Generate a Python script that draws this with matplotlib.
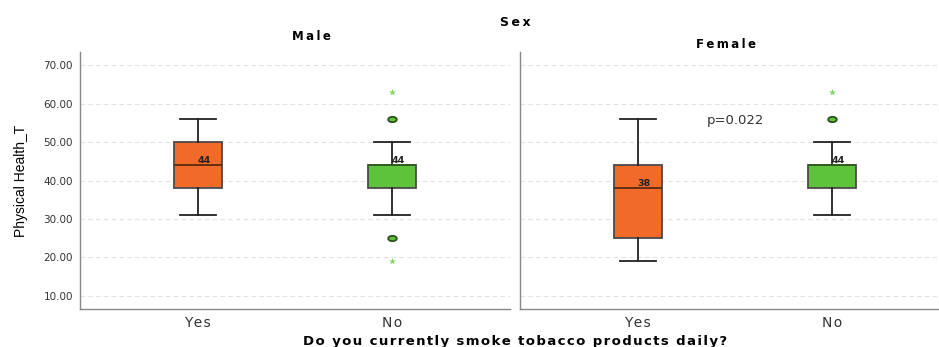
import matplotlib.pyplot as plt
from matplotlib.path import Path
from matplotlib.transforms import Affine2D

# ---- data ----
sexes = ["Male", "Female"]
smoke_labels = ["Yes", "No"]

# five-number summaries per panel: (whisker low, q1, median, q3, whisker high)
male_stats = [(31, 38, 44, 50, 56), (31, 38, 44, 44, 50)]
female_stats = [(19, 25, 38, 44, 56), (31, 38, 44, 44, 50)]

# outliers (circles) and extreme values (stars) per panel, per category
male_outliers = [[], [56, 25]]
male_extremes = [[], [63, 19]]
female_outliers = [[], [56]]
female_extremes = [[], [63]]

p_text = "p=0.022"
yticks = [10, 20, 30, 40, 50, 60, 70]

box_colors = ["#F26A2A", "#5CC33A"]
star_color = "#7FD45C"

plt.rcParams["font.family"] = ["DejaVu Sans"]

fig = plt.figure(figsize=(9.39, 3.47), dpi=100)
W, H = 939, 347

# flattened ellipse used for outlier markers
ellipse = Path.unit_circle().transformed(Affine2D().scale(1.6, 1.0))


def spaced(s, gap="\u200a"):
    return gap.join(s)


def px_axes(x0, x1, y0, y1):
    return fig.add_axes([x0 / W, 1 - y1 / H, (x1 - x0) / W, (y1 - y0) / H])


ax_m = px_axes(80, 510, 52, 309)
ax_f = px_axes(520, 939, 52, 309)
unit = 194.0  # pixels between categories


def draw_panel(ax, stats, outl, extr, width_px):
    data = []
    for s in stats:
        lo, q1, med, q3, hi = s
        data.append(dict(whislo=lo, q1=q1, med=med, q3=q3, whishi=hi, fliers=[]))
    bp = ax.bxp(data, positions=[0, 1], widths=0.25, patch_artist=True,
                showfliers=False,
                boxprops=dict(linewidth=1.3, edgecolor="#4a4a4a"),
                medianprops=dict(color="#5a2a10", linewidth=1.3),
                whiskerprops=dict(color="#222222", linewidth=1.3),
                capprops=dict(color="#222222", linewidth=1.3),
                capwidths=0.19)
    for patch, c in zip(bp["boxes"], box_colors):
        patch.set_facecolor(c)
    bp["medians"][1].set_color("#2f5e20")
    for i, s in enumerate(stats):
        med = s[2]
        ax.text(i + 0.03, med + 1.3, str(med), fontsize=6.8, fontweight="bold",
                color="#222222", ha="center", va="center")
        if outl[i]:
            ax.scatter([i] * len(outl[i]), outl[i], s=38, marker=ellipse,
                       facecolor=box_colors[i], edgecolor="#2f4f20",
                       linewidth=1.3, zorder=3)
        if extr[i]:
            ax.scatter([i] * len(extr[i]), extr[i], s=26, marker="*",
                       color=star_color, zorder=3, linewidth=0)
    ax.set_xlim(-0.608, -0.608 + width_px / unit)
    ax.set_ylim(6.6, 73.4)
    ax.set_yticks(yticks)
    ax.grid(axis="y", linestyle=(0, (4, 3)), color="#e2e2e2", linewidth=0.8)
    ax.set_axisbelow(True)
    ax.set_xticks([0, 1])
    ax.set_xticklabels([spaced(t) for t in smoke_labels], fontsize=10,
                       color="#333333")
    ax.tick_params(axis="both", length=0)
    ax.tick_params(axis="x", pad=5)
    for sp in ["top", "right"]:
        ax.spines[sp].set_visible(False)
    for sp in ["left", "bottom"]:
        ax.spines[sp].set_color("#888888")
        ax.spines[sp].set_linewidth(1.0)


draw_panel(ax_m, male_stats, male_outliers, male_extremes, 430)
draw_panel(ax_f, female_stats, female_outliers, female_extremes, 419)

ax_m.set_yticklabels([f"{v:.2f}" for v in yticks], fontsize=7.5, color="#333333")
ax_m.tick_params(axis="y", pad=5)
ax_f.set_yticklabels([])

ax_f.text(0.5, 55.6, p_text, fontsize=9.5, color="#333333", ha="center", va="center")

ax_m.set_ylabel("Physical Health_T", fontsize=10, family="Liberation Sans",
                labelpad=11)

fig.text(311 / W, 1 - 37 / H, spaced(sexes[0], "\u2009"), fontsize=8.5,
         fontweight="bold", ha="center", va="center")
fig.text(726 / W, 1 - 44 / H, spaced(sexes[1], "\u2009"), fontsize=8.5,
         fontweight="bold", ha="center", va="center")
fig.text(515 / W, 1 - 22 / H, spaced("Sex", "\u2009"), fontsize=9,
         fontweight="bold", ha="center", va="center")
fig.text(515 / W, 1 - 341 / H,
         spaced("Do you currently smoke tobacco products daily?"),
         fontsize=9.5, fontweight="bold", ha="center", va="center")

fig.savefig("out.png", dpi=100)
